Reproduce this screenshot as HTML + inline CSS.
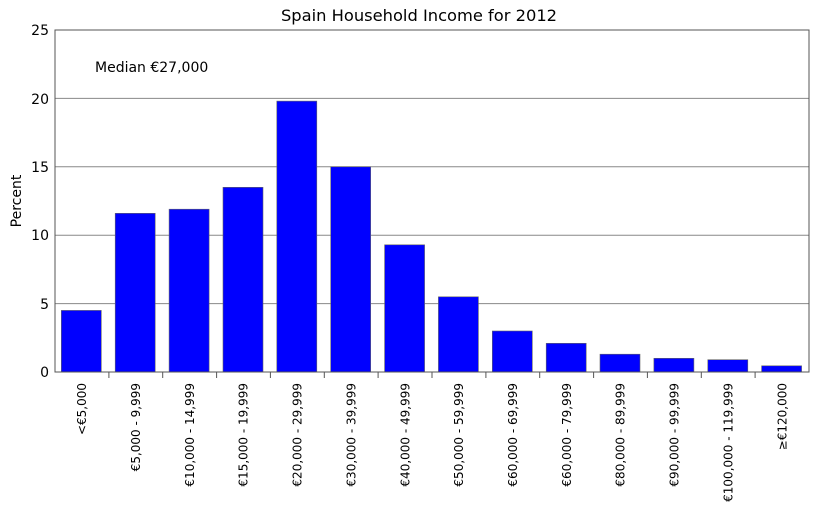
<!DOCTYPE html>
<html><head><style>body{margin:0;background:#fff}svg{display:block}</style></head><body>
<svg width="819" height="512" xmlns="http://www.w3.org/2000/svg" font-family="DejaVu Sans, Liberation Sans, sans-serif" font-size="13" fill="#000">
<rect width="819" height="512" fill="#fff"/>
<g stroke="#888" stroke-width="1">
<line x1="55" y1="98.4" x2="809" y2="98.4"/>
<line x1="55" y1="166.8" x2="809" y2="166.8"/>
<line x1="55" y1="235.2" x2="809" y2="235.2"/>
<line x1="55" y1="303.6" x2="809" y2="303.6"/>
</g>
<g fill="#0000ff" stroke="#666" stroke-width="0.6">
<rect x="61.3" y="310.4" width="40" height="61.6"/>
<rect x="115.2" y="213.3" width="40" height="158.7"/>
<rect x="169.1" y="209.2" width="40" height="162.8"/>
<rect x="223" y="187.3" width="40" height="184.7"/>
<rect x="276.8" y="101.1" width="40" height="270.9"/>
<rect x="330.7" y="166.8" width="40" height="205.2"/>
<rect x="384.6" y="244.8" width="40" height="127.2"/>
<rect x="438.4" y="296.8" width="40" height="75.2"/>
<rect x="492.3" y="331" width="40" height="41"/>
<rect x="546.2" y="343.3" width="40" height="28.7"/>
<rect x="600" y="354.2" width="40" height="17.8"/>
<rect x="653.9" y="358.3" width="40" height="13.7"/>
<rect x="707.8" y="359.7" width="40" height="12.3"/>
<rect x="761.6" y="365.8" width="40" height="6.2"/>
</g>
<rect x="55" y="30" width="754" height="342" fill="none" stroke="#555" stroke-width="1"/>
<g stroke="#555">
<line x1="108.9" y1="372" x2="108.9" y2="378"/><line x1="162.7" y1="372" x2="162.7" y2="378"/>
<line x1="216.6" y1="372" x2="216.6" y2="378"/><line x1="270.4" y1="372" x2="270.4" y2="378"/>
<line x1="324.3" y1="372" x2="324.3" y2="378"/><line x1="378.1" y1="372" x2="378.1" y2="378"/>
<line x1="432" y1="372" x2="432" y2="378"/><line x1="485.9" y1="372" x2="485.9" y2="378"/>
<line x1="539.7" y1="372" x2="539.7" y2="378"/><line x1="593.6" y1="372" x2="593.6" y2="378"/>
<line x1="647.4" y1="372" x2="647.4" y2="378"/><line x1="701.3" y1="372" x2="701.3" y2="378"/>
<line x1="755.1" y1="372" x2="755.1" y2="378"/>
</g>
<g text-anchor="end" font-size="14">
<text x="49" y="377">0</text><text x="49" y="309">5</text><text x="49" y="240">10</text>
<text x="49" y="172">15</text><text x="49" y="104">20</text><text x="49" y="35">25</text>
</g>
<text x="419" y="21" text-anchor="middle" font-size="16.3">Spain Household Income for 2012</text>
<text x="95" y="72" font-size="14">Median €27,000</text>
<text transform="translate(21,201) rotate(-90)" text-anchor="middle" font-size="14">Percent</text>
<g text-anchor="end" font-size="12">
<text transform="translate(86,383) rotate(-90)">&lt;€5,000</text>
<text transform="translate(139.9,383) rotate(-90)">€5,000 - 9,999</text>
<text transform="translate(193.8,383) rotate(-90)">€10,000 - 14,999</text>
<text transform="translate(247.7,383) rotate(-90)">€15,000 - 19,999</text>
<text transform="translate(301.5,383) rotate(-90)">€20,000 - 29,999</text>
<text transform="translate(355.4,383) rotate(-90)">€30,000 - 39,999</text>
<text transform="translate(409.3,383) rotate(-90)">€40,000 - 49,999</text>
<text transform="translate(463.1,383) rotate(-90)">€50,000 - 59,999</text>
<text transform="translate(517,383) rotate(-90)">€60,000 - 69,999</text>
<text transform="translate(570.9,383) rotate(-90)">€60,000 - 79,999</text>
<text transform="translate(624.7,383) rotate(-90)">€80,000 - 89,999</text>
<text transform="translate(678.6,383) rotate(-90)">€90,000 - 99,999</text>
<text transform="translate(732.5,383) rotate(-90)">€100,000 - 119,999</text>
<text transform="translate(786.3,383) rotate(-90)">≥€120,000</text>
</g>
</svg>
</body></html>
